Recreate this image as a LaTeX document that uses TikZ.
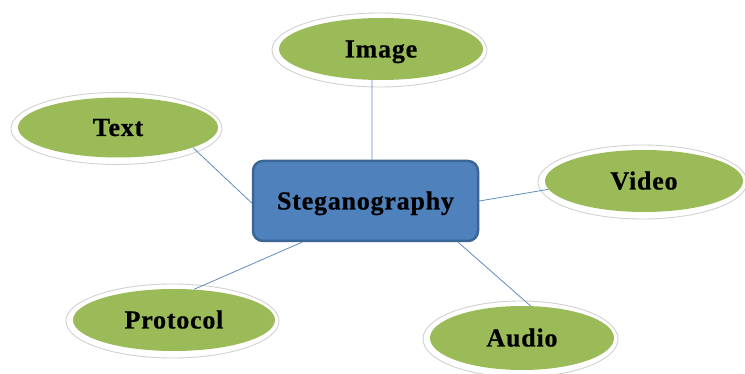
\documentclass[tikz,border=0pt]{standalone}
\usepackage{fontspec}
\usetikzlibrary{shapes.geometric}
\setmainfont{Liberation Serif}
\newfontfamily\labfont{Liberation Serif}[LetterSpace=3,FakeBold=0.6]
\definecolor{leafgreen}{HTML}{9BBB59}
\definecolor{hubblue}{HTML}{4F81BD}
\definecolor{hubedge}{HTML}{3A6594}
\definecolor{linkblue}{HTML}{5F8DC4}
\pgfdeclarelayer{ringlayer}
\pgfdeclarelayer{linklayer}
\pgfsetlayers{ringlayer,linklayer,main}
\tikzset{
  leaf/.style={ellipse, fill=leafgreen, draw=none, inner sep=0pt,
    font=\labfont\bfseries\fontsize{26}{28}\selectfont, text height=17pt, text depth=0pt},
  ring/.style={fill=white, draw=black!18, line width=0.9pt},
  hub/.style={rectangle, rounded corners=10pt, fill=hubblue, draw=hubedge, line width=2.5pt,
    minimum width=225pt, minimum height=80pt, inner sep=0pt,
    font=\labfont\bfseries\fontsize{26}{28}\selectfont, text height=17pt, text depth=0pt},
  link/.style={draw=linkblue, line width=0.8pt}
}
\newcommand\mkleaf[6]{%
  \begin{pgfonlayer}{ringlayer}
    \path[ring] (#2-1.5,#3-1) ellipse ({#4pt+5.5pt} and {#5pt+6pt});
  \end{pgfonlayer}
  \node[leaf, minimum width={2*#4pt}, minimum height={2*#5pt}] (#1) at (#2,#3) {#6};}
\begin{document}
\begin{tikzpicture}[x=1pt,y=1pt]
\begin{pgfonlayer}{ringlayer}
  \fill[white] (0,0) rectangle (745,-374);
\end{pgfonlayer}
\useasboundingbox (0,0) rectangle (745,-374);
\node[hub] (box) at (365.5,-201) {Steganography};
\mkleaf{img}{381}{-49}{102}{31}{Image}
\mkleaf{txt}{118}{-127.5}{100}{30}{Text}
\mkleaf{vid}{644}{-181}{99}{31}{Video}
\mkleaf{pro}{174}{-320}{101}{31}{Protocol}
\mkleaf{aud}{522}{-338}{92}{32}{Audio}
\begin{pgfonlayer}{linklayer}
  \draw[link] (img.-106) -- (box.81);
  \draw[link] (txt.-15.7) -- (box.181);
  \draw[link] (vid.185.8) -- (box.east);
  \draw[link] (pro.57) -- (box.-147);
  \draw[link] (aud.75) -- (box.-24);
\end{pgfonlayer}
\end{tikzpicture}
\end{document}
